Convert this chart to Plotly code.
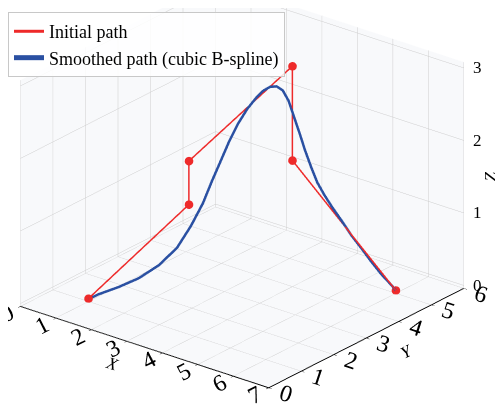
import plotly.graph_objects as go

# Initial path waypoints
init_x = [1, 2, 2, 4, 4, 6]
init_y = [1, 3, 3, 4, 4, 5]
init_z = [0, 1.0, 1.6, 3.0, 1.7, 0]

# Smoothed path (cubic B-spline)
smooth_x = [1.0, 1.05, 1.1, 1.3, 1.52, 1.72, 1.91, 2.12, 2.32, 2.49, 2.66, 2.82, 2.98, 3.15, 3.32, 3.45, 3.58, 3.70, 3.82, 3.93, 4.04, 4.14, 4.24, 4.36, 4.48, 4.62, 4.76, 4.95, 5.14, 5.33, 5.52, 5.72, 5.9, 6.0]
smooth_y = [1.0, 1.08, 1.19, 1.6, 1.98, 2.38, 2.73, 2.93, 3.08, 3.17, 3.26, 3.35, 3.44, 3.54, 3.63, 3.70, 3.77, 3.84, 3.90, 3.96, 4.01, 4.07, 4.12, 4.18, 4.24, 4.31, 4.38, 4.48, 4.57, 4.67, 4.76, 4.86, 4.95, 5.0]
smooth_z = [0.0, 0.01, 0.03, 0.07, 0.14, 0.26, 0.45, 0.74, 1.05, 1.36, 1.65, 1.93, 2.17, 2.38, 2.54, 2.64, 2.70, 2.71, 2.66, 2.52, 2.30, 2.08, 1.86, 1.63, 1.42, 1.25, 1.10, 0.91, 0.72, 0.55, 0.38, 0.21, 0.08, 0.0]

x_ticks = [0, 1, 2, 3, 4, 5, 6, 7]
y_ticks = [0, 1, 2, 3, 4, 5, 6]
z_ticks = [0, 1, 2, 3]
z_tick_text = ["0", "1", "2", "3"]

X_MAX, Y_MAX = 7, 6
FONT = "Liberation Serif, Times New Roman, serif"

fig = go.Figure()
fig.add_trace(go.Scatter3d(x=init_x, y=init_y, z=init_z, mode="lines",
                           line=dict(color="#ee2a2a", width=3), name="Initial path"))
fig.add_trace(go.Scatter3d(x=init_x, y=init_y, z=init_z, mode="markers",
                           marker=dict(color="#ee2a2a", size=5), showlegend=False))
fig.add_trace(go.Scatter3d(x=smooth_x, y=smooth_y, z=smooth_z, mode="lines",
                           line=dict(color="#2a50a2", width=5),
                           name="Smoothed path (cubic B-spline)"))

axis_common = dict(
    showbackground=True,
    backgroundcolor="rgb(248,249,251)",
    gridcolor="rgb(205,205,205)",
    gridwidth=1,
    showline=True,
    linecolor="black",
    linewidth=2,
    zeroline=False,
    ticks="outside",
    ticklen=4,
    tickcolor="black",
    tickfont=dict(family=FONT, size=17, color="black"),
    showspikes=False,
)

# z tick labels placed on the right-hand vertical edge, as in the reference
ZX, ZY = X_MAX - 0.001, Y_MAX - 0.001
z_annots = [dict(x=ZX, y=ZY, z=v, text=t, showarrow=False, xanchor="left",
                 xshift=7, font=dict(family=FONT, size=17, color="black"))
            for v, t in zip(z_ticks, z_tick_text)]
z_annots.append(dict(x=ZX, y=ZY, z=1.5, text="<i>Z</i>", showarrow=False,
                     xanchor="center", xshift=27, textangle=-90,
                     font=dict(family=FONT, size=17, color="black")))

S = 1.56
fig.update_layout(
    width=503, height=408,
    margin=dict(l=0, r=0, t=0, b=0),
    paper_bgcolor="white",
    font=dict(family=FONT, color="black"),
    scene=dict(
        domain=dict(x=[0, 1], y=[0, 1]),
        xaxis=dict(axis_common, range=[0, X_MAX], tickvals=x_ticks,
                   title=dict(text="<i>X</i>", font=dict(family=FONT, size=17))),
        yaxis=dict(axis_common, range=[0, Y_MAX], tickvals=y_ticks,
                   title=dict(text="<i>Y</i>", font=dict(family=FONT, size=17))),
        zaxis=dict(axis_common, range=[-0.04, 3.08], tickvals=z_ticks,
                   showticklabels=False, showline=False, ticks="",
                   title=dict(text="")),
        aspectmode="manual",
        aspectratio=dict(x=1.0 * S, y=0.98 * S, z=0.779 * S),
        camera=dict(eye=dict(x=0.895, y=-0.98, z=0.444), center=dict(x=0.065, y=0.055, z=-0.15),
                    projection=dict(type="orthographic")),
        annotations=z_annots,
    ),
    legend=dict(x=0.0, y=0.99, xanchor="left", yanchor="top",
                bgcolor="rgba(255,255,255,0.85)", bordercolor="rgb(200,200,200)", borderwidth=1,
                tracegroupgap=0, itemwidth=30,
                font=dict(family=FONT, size=18, color="black")),
    showlegend=True,
)

fig.write_html("out.html")
